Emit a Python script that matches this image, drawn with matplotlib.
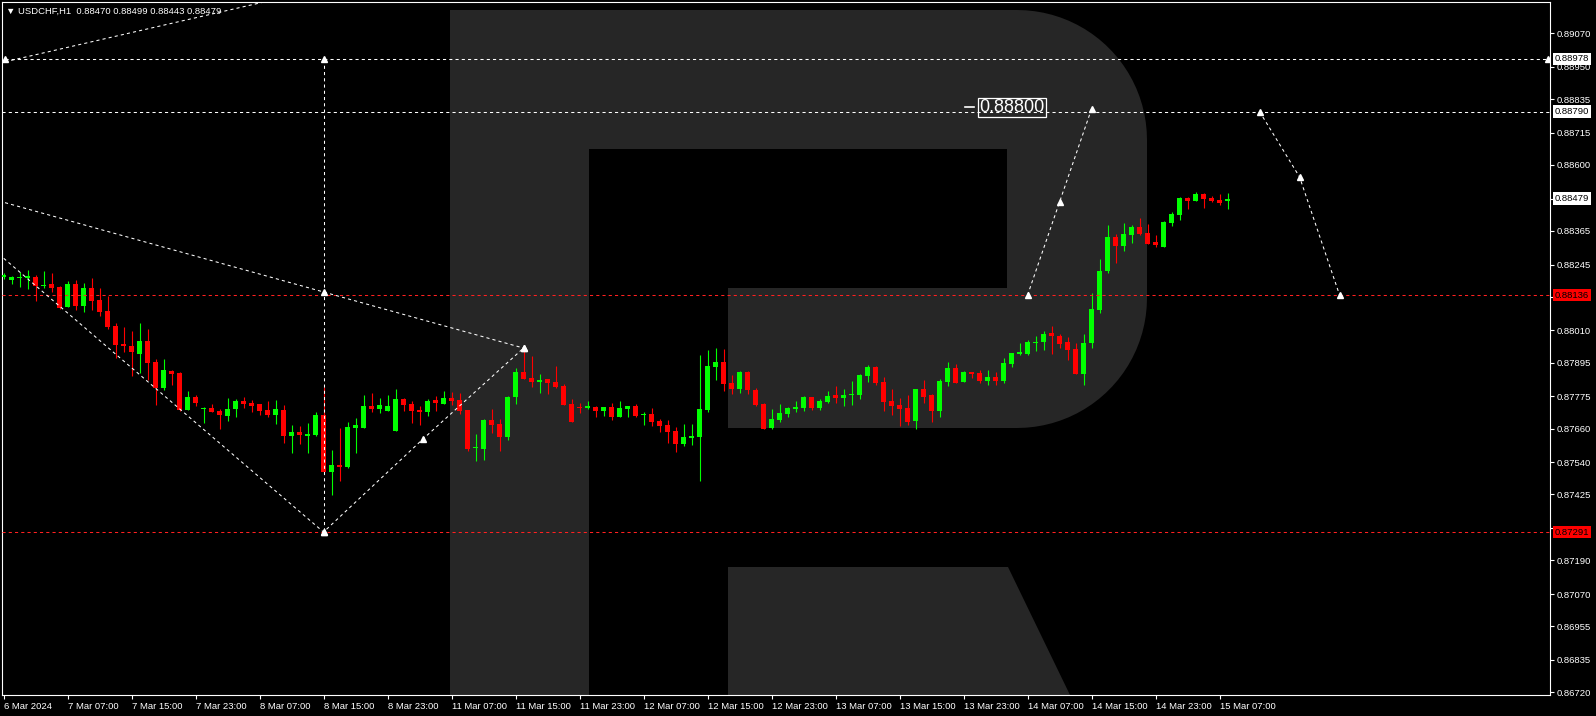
import numpy as np
import matplotlib.pyplot as plt
import matplotlib.transforms as mtransforms
from matplotlib.patches import Polygon

# USDCHF H1, first bar 6 Mar 2024 23:00, last bar 15 Mar 2024 08:00
opens = [0.88199, 0.88191, 0.88198, 0.88198, 0.88200, 0.88170, 0.88175, 0.88164, 0.88094, 0.88175,
         0.88098, 0.88161, 0.88118, 0.88079, 0.88025, 0.87961, 0.87956, 0.87927, 0.87972, 0.87897,
         0.87806, 0.87867, 0.87858, 0.87727, 0.87772, 0.87731, 0.87733, 0.87722, 0.87706, 0.87731,
         0.87758, 0.87752, 0.87747, 0.87726, 0.87709, 0.87726, 0.87634, 0.87647, 0.87634, 0.87637,
         0.87708, 0.87506, 0.87530, 0.87523, 0.87663, 0.87663, 0.87740, 0.87728, 0.87724, 0.87652,
         0.87765, 0.87747, 0.87727, 0.87720, 0.87762, 0.87748, 0.87769, 0.87762, 0.87726, 0.87592,
         0.87588, 0.87690, 0.87676, 0.87631, 0.87772, 0.87861, 0.87840, 0.87827, 0.87836, 0.87826,
         0.87811, 0.87747, 0.87738, 0.87735, 0.87737, 0.87724, 0.87737, 0.87702, 0.87729, 0.87740,
         0.87708, 0.87712, 0.87687, 0.87672, 0.87651, 0.87606, 0.87627, 0.87631, 0.87727, 0.87879,
         0.87897, 0.87822, 0.87802, 0.87861, 0.87797, 0.87747, 0.87663, 0.87690, 0.87712, 0.87729,
         0.87733, 0.87772, 0.87733, 0.87755, 0.87779, 0.87770, 0.87778, 0.87779, 0.87847, 0.87879,
         0.87826, 0.87758, 0.87744, 0.87733, 0.87687, 0.87801, 0.87779, 0.87722, 0.87826, 0.87876,
         0.87826, 0.87861, 0.87858, 0.87829, 0.87844, 0.87829, 0.87890, 0.87925, 0.87925, 0.87966,
         0.87968, 0.88001, 0.87990, 0.87968, 0.87944, 0.87854, 0.87965, 0.88083, 0.88222, 0.88343,
         0.88311, 0.88350, 0.88379, 0.88357, 0.88325, 0.88307, 0.88393, 0.88421, 0.88482, 0.88471,
         0.88496, 0.88482, 0.88475, 0.88470]
highs = [0.88213, 0.88204, 0.88218, 0.88225, 0.88206, 0.88221, 0.88214, 0.88168, 0.88186, 0.88189,
         0.88180, 0.88196, 0.88160, 0.88132, 0.88035, 0.88021, 0.88007, 0.88038, 0.88015, 0.87908,
         0.87908, 0.87868, 0.87861, 0.87794, 0.87778, 0.87736, 0.87747, 0.87731, 0.87769, 0.87765,
         0.87772, 0.87761, 0.87747, 0.87758, 0.87761, 0.87744, 0.87672, 0.87669, 0.87679, 0.87719,
         0.87809, 0.87583, 0.87663, 0.87683, 0.87697, 0.87779, 0.87786, 0.87769, 0.87779, 0.87801,
         0.87769, 0.87758, 0.87740, 0.87765, 0.87776, 0.87794, 0.87790, 0.87786, 0.87726, 0.87640,
         0.87694, 0.87730, 0.87694, 0.87776, 0.87876, 0.87942, 0.87919, 0.87854, 0.87836, 0.87883,
         0.87819, 0.87765, 0.87751, 0.87758, 0.87740, 0.87737, 0.87751, 0.87758, 0.87740, 0.87747,
         0.87719, 0.87733, 0.87694, 0.87690, 0.87665, 0.87676, 0.87676, 0.87922, 0.87940, 0.87947,
         0.87944, 0.87851, 0.87864, 0.87864, 0.87804, 0.87751, 0.87730, 0.87747, 0.87737, 0.87758,
         0.87776, 0.87772, 0.87765, 0.87794, 0.87811, 0.87801, 0.87829, 0.87854, 0.87886, 0.87883,
         0.87844, 0.87801, 0.87769, 0.87779, 0.87801, 0.87833, 0.87783, 0.87836, 0.87897, 0.87890,
         0.87864, 0.87861, 0.87868, 0.87868, 0.87861, 0.87912, 0.87929, 0.87965, 0.87976, 0.87990,
         0.88008, 0.88025, 0.87997, 0.87986, 0.87965, 0.87997, 0.88143, 0.88264, 0.88385, 0.88354,
         0.88393, 0.88386, 0.88411, 0.88389, 0.88350, 0.88400, 0.88432, 0.88486, 0.88486, 0.88503,
         0.88500, 0.88489, 0.88496, 0.88499]
lows = [0.88194, 0.88176, 0.88166, 0.88158, 0.88116, 0.88160, 0.88148, 0.88088, 0.88093, 0.88082,
        0.88076, 0.88082, 0.88062, 0.88015, 0.87912, 0.87934, 0.87848, 0.87859, 0.87833, 0.87745,
        0.87798, 0.87816, 0.87723, 0.87726, 0.87742, 0.87681, 0.87720, 0.87659, 0.87688, 0.87702,
        0.87734, 0.87720, 0.87709, 0.87702, 0.87677, 0.87609, 0.87574, 0.87606, 0.87574, 0.87634,
        0.87504, 0.87423, 0.87474, 0.87520, 0.87574, 0.87663, 0.87720, 0.87716, 0.87724, 0.87650,
        0.87724, 0.87681, 0.87672, 0.87706, 0.87724, 0.87748, 0.87745, 0.87713, 0.87581, 0.87545,
        0.87549, 0.87645, 0.87581, 0.87620, 0.87748, 0.87836, 0.87808, 0.87786, 0.87783, 0.87804,
        0.87744, 0.87683, 0.87715, 0.87729, 0.87702, 0.87706, 0.87691, 0.87702, 0.87702, 0.87702,
        0.87674, 0.87670, 0.87649, 0.87609, 0.87577, 0.87599, 0.87602, 0.87473, 0.87720, 0.87833,
        0.87795, 0.87784, 0.87788, 0.87784, 0.87741, 0.87659, 0.87659, 0.87684, 0.87702, 0.87720,
        0.87722, 0.87727, 0.87727, 0.87751, 0.87751, 0.87740, 0.87744, 0.87765, 0.87826, 0.87815,
        0.87722, 0.87708, 0.87669, 0.87672, 0.87658, 0.87751, 0.87683, 0.87701, 0.87811, 0.87822,
        0.87826, 0.87840, 0.87822, 0.87815, 0.87815, 0.87822, 0.87879, 0.87922, 0.87922, 0.87936,
        0.87940, 0.87926, 0.87947, 0.87904, 0.87854, 0.87815, 0.87947, 0.88072, 0.88213, 0.88250,
        0.88293, 0.88322, 0.88350, 0.88318, 0.88307, 0.88307, 0.88382, 0.88404, 0.88443, 0.88471,
        0.88446, 0.88468, 0.88457, 0.88443]
closes = [0.88206, 0.88200, 0.88200, 0.88205, 0.88169, 0.88173, 0.88162, 0.88091, 0.88175, 0.88098,
          0.88161, 0.88116, 0.88076, 0.88022, 0.87958, 0.87954, 0.87934, 0.87972, 0.87895, 0.87806,
          0.87868, 0.87855, 0.87727, 0.87772, 0.87752, 0.87735, 0.87720, 0.87709, 0.87729, 0.87757,
          0.87748, 0.87741, 0.87722, 0.87708, 0.87729, 0.87634, 0.87647, 0.87637, 0.87640, 0.87708,
          0.87506, 0.87530, 0.87524, 0.87665, 0.87672, 0.87740, 0.87729, 0.87744, 0.87740, 0.87765,
          0.87744, 0.87722, 0.87720, 0.87758, 0.87752, 0.87769, 0.87758, 0.87724, 0.87588, 0.87595,
          0.87690, 0.87674, 0.87631, 0.87772, 0.87861, 0.87836, 0.87826, 0.87833, 0.87822, 0.87808,
          0.87744, 0.87683, 0.87734, 0.87739, 0.87724, 0.87737, 0.87702, 0.87733, 0.87740, 0.87706,
          0.87712, 0.87684, 0.87670, 0.87649, 0.87606, 0.87630, 0.87633, 0.87730, 0.87883, 0.87897,
          0.87820, 0.87802, 0.87861, 0.87798, 0.87744, 0.87659, 0.87694, 0.87715, 0.87733, 0.87737,
          0.87772, 0.87733, 0.87758, 0.87776, 0.87769, 0.87779, 0.87782, 0.87851, 0.87879, 0.87822,
          0.87755, 0.87740, 0.87729, 0.87683, 0.87801, 0.87772, 0.87722, 0.87829, 0.87876, 0.87822,
          0.87861, 0.87854, 0.87829, 0.87844, 0.87829, 0.87894, 0.87929, 0.87933, 0.87968, 0.87968,
          0.87997, 0.87990, 0.87961, 0.87940, 0.87854, 0.87965, 0.88086, 0.88222, 0.88343, 0.88311,
          0.88354, 0.88379, 0.88354, 0.88318, 0.88314, 0.88397, 0.88425, 0.88482, 0.88471, 0.88496,
          0.88478, 0.88471, 0.88464, 0.88479]

time_labels = ['6 Mar 2024', '7 Mar 07:00', '7 Mar 15:00', '7 Mar 23:00', '8 Mar 07:00',
               '8 Mar 15:00', '8 Mar 23:00', '11 Mar 07:00', '11 Mar 15:00', '11 Mar 23:00',
               '12 Mar 07:00', '12 Mar 15:00', '12 Mar 23:00', '13 Mar 07:00', '13 Mar 15:00',
               '13 Mar 23:00', '14 Mar 07:00', '14 Mar 15:00', '14 Mar 23:00', '15 Mar 07:00']
price_ticks = [0.89070, 0.88950, 0.88835, 0.88715, 0.88600, 0.88480, 0.88365, 0.88245, 0.88130,
               0.88010, 0.87895, 0.87775, 0.87660, 0.87540, 0.87425, 0.87305, 0.87190, 0.87070,
               0.86955, 0.86835, 0.86720]

# drawn levels and forecast paths (bar index, price)
level_top = 0.88978
level_target = 0.88790
level_mid = 0.88136
level_low = 0.87291
old_up_x, old_up_y = [-1, 45], [0.88960, 0.89263]
chan_hi_x, chan_hi_y = [-1, 40, 65], [0.88475, 0.88147, 0.87947]
wave_x, wave_y = [-1, 40, 52.4, 65], [0.88292, 0.87291, 0.87622, 0.87947]
vert_x, vert_y = [40, 40], [level_top, level_low]
fc_up_x, fc_up_y = [128, 132, 136], [0.88136, 0.88468, 0.88800]
fc_dn_x, fc_dn_y = [157, 162, 167], [0.88790, 0.88557, 0.88136]

W, H = 1596, 716
fig = plt.figure(figsize=(W / 100, H / 100), dpi=100, facecolor='black')
ax = fig.add_axes([2 / W, 21 / H, 1548 / W, 693 / H])
ax.set_facecolor('black')
ax.set_xlim(-0.19, 193.3)
ax.set_ylim(0.86710, 0.89181)

# RoboForex style "R" watermark (pixel layout of the chart window)
def pix(xp, yp):
    return ((xp - 2) / 1548, (695 - yp) / 693)

wm = '#262626'
stem = [(450, 10), (589, 10), (589, 695), (450, 695)]
bowl = [(589, 10), (1017, 10)]
for a in np.linspace(90, 0, 24):
    t = np.radians(a)
    bowl.append((1017 + 130 * np.cos(t), 140 - 130 * np.sin(t)))
for a in np.linspace(0, -90, 24):
    t = np.radians(a)
    bowl.append((1017 + 130 * np.cos(t), 298 - 130 * np.sin(t)))
bowl += [(728, 428), (728, 288), (1007, 288), (1007, 149), (589, 149)]
leg = [(728, 567), (1008, 567), (1070, 695), (728, 695)]
for shape in (stem, bowl, leg):
    ax.add_patch(Polygon([pix(*p) for p in shape], closed=True, transform=ax.transAxes,
                         fc=wm, ec='none', zorder=0))

# candles
o, h, l, c = map(np.array, (opens, highs, lows, closes))
x = np.arange(len(o))
cols = np.where(c >= o, '#00ff00', '#ff0000')
ax.vlines(x, l, h, colors=cols, lw=0.8, zorder=2)
ax.bar(x, np.maximum(np.abs(c - o), 0.00003), bottom=np.minimum(o, c), width=0.65,
       color=cols, lw=0, zorder=3)

# levels and forecast lines
dash = (0, (3, 3))
ax.axhline(level_target, color='white', lw=0.75, ls=dash, zorder=4)
ax.axhline(level_mid, color='#ff2020', lw=0.75, ls=dash, zorder=4)
ax.axhline(level_low, color='#ff2020', lw=0.75, ls=dash, zorder=4)
ax.plot([0.2, 193.0], [level_top, level_top], color='white', lw=0.75, ls=dash, zorder=4)
ax.plot([0.2, 193.0], [level_top, level_top], ls='none', marker='^', ms=4, color='white', zorder=5)
for xs, ys in [(old_up_x, old_up_y), (chan_hi_x, chan_hi_y), (wave_x, wave_y),
               (vert_x, vert_y), (fc_up_x, fc_up_y), (fc_dn_x, fc_dn_y)]:
    ax.plot(xs, ys, color='white', lw=0.75, ls=dash, zorder=4)
for xs, ys in [(chan_hi_x[1:], chan_hi_y[1:]), (wave_x[1:], wave_y[1:]),
               (vert_x, vert_y), (fc_up_x, fc_up_y), (fc_dn_x, fc_dn_y)]:
    ax.plot(xs, ys, ls='none', marker='^', ms=4, color='white', zorder=5)

# target label
ax.plot([120.2, 121.3], [0.88805, 0.88805], color='white', lw=1.2, zorder=5)
ax.text(126.1, 0.88805, '0.88800', color='white', fontsize=13, family='Liberation Sans',
        ha='center', va='center', zorder=6,
        bbox=dict(boxstyle='square,pad=0.08', fc='none', ec='white', lw=0.9))

# axes styling
for s in ax.spines.values():
    s.set_color('white')
    s.set_linewidth(0.8)
ax.yaxis.tick_right()
ax.set_yticks(price_ticks, [f'{v:.5f}' for v in price_ticks])
ax.set_xticks(np.arange(0, 8 * len(time_labels), 8), time_labels)
ax.tick_params(colors='white', length=3, width=0.8, labelsize=6.8, pad=2)
for t in ax.get_xticklabels():
    t.set_ha('left')
    t.set_family('Liberation Sans')
for t in ax.get_yticklabels():
    t.set_family('Liberation Sans')

# price boxes on the right scale
btr = mtransforms.offset_copy(mtransforms.blended_transform_factory(ax.transAxes, ax.transData),
                              fig=fig, x=5, y=0, units='dots')
for val, fc, tc in [(level_top, 'white', 'black'), (level_target, 'white', 'black'),
                    (c[-1], 'white', 'black'), (level_mid, '#ff0000', 'black'),
                    (level_low, '#ff0000', 'black')]:
    ax.text(1.0, val, f'{val:.5f}', transform=btr, ha='left', va='center', fontsize=6.8,
            family='Liberation Sans', color=tc, zorder=10, clip_on=False,
            bbox=dict(boxstyle='square,pad=0.2', fc=fc, ec='none'))

fig.text(6 / W, 1 - 11 / H, '\u25bc USDCHF,H1  0.88470 0.88499 0.88443 0.88479',
         color='white', fontsize=6.8, family=['Liberation Sans', 'DejaVu Sans'], va='center')

fig.savefig('out.png', dpi=100, facecolor='black')
